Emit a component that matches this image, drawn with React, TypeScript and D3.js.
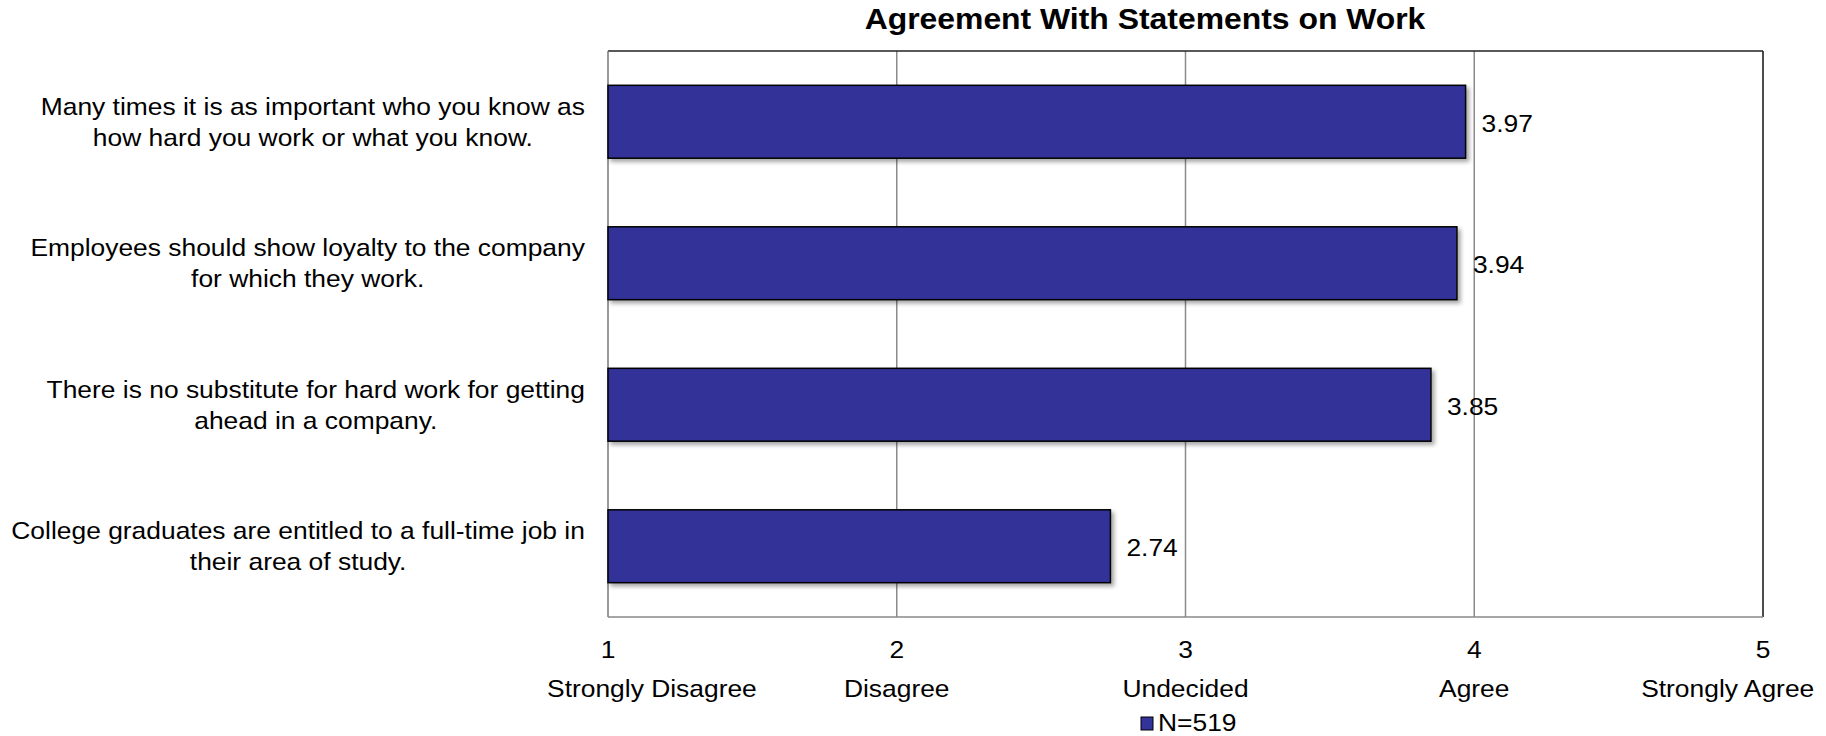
import React from "react";
import * as d3 from "d3";

const statements: string[][] = [
  ["Many times it is as important who you know as", "how hard you work or what you know."],
  ["Employees should show loyalty to the company", "for which they work."],
  ["There is no substitute for hard work for getting", "ahead in a company."],
  ["College graduates are entitled to a full-time job in", "their area of study."],
];
const values: number[] = [3.97, 3.94, 3.85, 2.74];
const tickValues: number[] = [1, 2, 3, 4, 5];
const tickLabels: string[] = ["Strongly Disagree", "Disagree", "Undecided", "Agree", "Strongly Agree"];
const title = "Agreement With Statements on Work";
const seriesName = "N=519";

const W = 1826;
const H = 736;
const M = { left: 608, right: 1763, top: 51, bottom: 617 };
const SX = 1.1;
const FONT = "'Liberation Sans', Arial, Helvetica, sans-serif";
const BAR = "#333399";

let ctx: CanvasRenderingContext2D | null = null;
function measure(t: string, size: number, weight = "normal") {
  if (!ctx) ctx = document.createElement("canvas").getContext("2d");
  if (!ctx) return t.length * size * 0.5 * SX;
  ctx.font = `${weight} ${size}px 'Liberation Sans', Arial, sans-serif`;
  return ctx.measureText(t).width * SX;
}

function T({ x, y, anchor = "start", size = 24, weight = "normal", children }: any) {
  return (
    <g transform={`translate(${x},${y}) scale(${SX},1)`}>
      <text textAnchor={anchor} fontSize={size} fontWeight={weight} fontFamily={FONT} fill="#000">
        {children}
      </text>
    </g>
  );
}

export default function App() {
  const x = d3.scaleLinear().domain([1, 5]).range([M.left, M.right]);
  const y = d3
    .scaleBand<number>()
    .domain(d3.range(values.length))
    .range([M.top, M.bottom])
    .paddingInner(0.485)
    .paddingOuter(0.2425);
  const band = (M.bottom - M.top) / values.length;
  const labelRight = 585;

  return (
    <svg width={W} height={H} style={{ position: "absolute", left: 0, top: 0, background: "#fff" }}>
      <defs>
        <filter id="sh" x="-10%" y="-20%" width="130%" height="160%">
          <feDropShadow dx="3" dy="3" stdDeviation="2" floodColor="#000" floodOpacity="0.35" />
        </filter>
      </defs>
      <rect width={W} height={H} fill="#fff" />
      <T x={1145} y={29} anchor="middle" size={29} weight="bold">{title}</T>

      {/* gridlines */}
      {tickValues.slice(1, -1).map((v) => (
        <line key={v} x1={x(v)} x2={x(v)} y1={M.top} y2={M.bottom} stroke="#8a8a8a" strokeWidth={1.5} />
      ))}
      {/* frame */}
      <line x1={M.left} x2={M.right} y1={M.top} y2={M.top} stroke="#222" strokeWidth={1.5} />
      <line x1={M.right} x2={M.right} y1={M.top} y2={M.bottom} stroke="#111" strokeWidth={1.5} />
      <line x1={M.left} x2={M.left} y1={M.top} y2={M.bottom} stroke="#777" strokeWidth={1.5} />
      <line x1={M.left} x2={M.right} y1={M.bottom} y2={M.bottom} stroke="#888" strokeWidth={1.5} />

      {/* bars */}
      {values.map((v, i) => (
        <g key={i}>
          <rect
            x={x(1)}
            y={y(i)!}
            width={x(v) - x(1)}
            height={y.bandwidth()}
            fill={BAR}
            stroke="#000"
            strokeWidth={1.5}
            filter="url(#sh)"
          />
          <T x={x(v) + 16} y={y(i)! + y.bandwidth() / 2 + 10}>{v.toFixed(2)}</T>
        </g>
      ))}

      {/* category labels */}
      {statements.map((lines, i) => {
        const cy = M.top + band * (i + 0.5);
        const wMax = Math.max(...lines.map((l) => measure(l, 24)));
        const cx = labelRight - wMax / 2;
        return (
          <g key={i}>
            {lines.map((l, j) => (
              <T key={j} x={cx} y={cy - 7 + j * 31} anchor="middle">{l}</T>
            ))}
          </g>
        );
      })}

      {/* x ticks */}
      {tickValues.map((v, i) => {
        const w = measure(tickLabels[i], 24);
        let cx = x(v);
        if (cx - w / 2 < 547) cx = 547 + w / 2;
        if (cx + w / 2 > 1815) cx = 1815 - w / 2;
        return (
          <g key={v}>
            <T x={x(v)} y={658} anchor="middle">{String(v)}</T>
            <T x={cx} y={697} anchor="middle">{tickLabels[i]}</T>
          </g>
        );
      })}

      {/* legend */}
      <rect x={1141} y={717} width={12} height={13} fill={BAR} stroke="#000" strokeWidth={1} />
      <T x={1158} y={731}>{seriesName}</T>
    </svg>
  );
}
